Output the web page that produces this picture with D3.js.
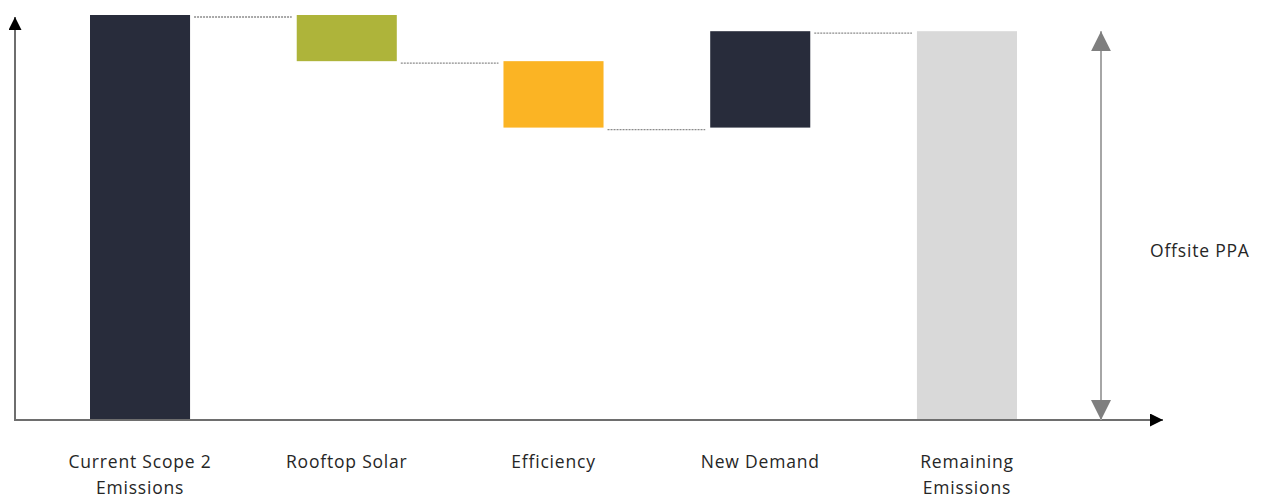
<!DOCTYPE html>
<html>
<head>
<meta charset="utf-8">
<script src="https://cdn.jsdelivr.net/npm/d3@7"></script>
<style>
  html, body { margin: 0; padding: 0; background: #ffffff; }
  svg { display: block; }
  text { font-family: "Open Sans", "Noto Sans", sans-serif; fill: #262626; }
</style>
</head>
<body>
<svg id="chart" width="1263" height="497"></svg>
<script>
// Scope 2 emissions bridge
const categories = ["Current Scope 2 Emissions", "Rooftop Solar", "Efficiency", "New Demand", "Remaining Emissions"];
const labelLines = [["Current Scope 2", "Emissions"], ["Rooftop Solar"], ["Efficiency"], ["New Demand"], ["Remaining", "Emissions"]];
// change contributed by each step (the last one is the resulting total)
const deltas = [100, -11.4, -16.4, 23.8, null];
const kinds = ["total", "step", "step", "step", "total"];
const colors = ["#282c3b", "#aeb43a", "#fbb424", "#282c3b", "#d9d9d9"];
const bracketLabel = "Offsite PPA";

// build start/end for each bar of the waterfall
let running = 0;
const bars = categories.map((c, i) => {
  let start, end;
  if (kinds[i] === "total" && deltas[i] == null) {
    start = 0; end = running;
  } else if (kinds[i] === "total") {
    start = 0; end = deltas[i]; running = end;
  } else {
    start = running; end = running + deltas[i]; running = end;
  }
  return { cat: c, lines: labelLines[i], start, end, color: colors[i] };
});

const svg = d3.select("#chart");
const originX = 15, originY = 420;

const x = d3.scaleBand()
  .domain(categories)
  .range([90, 1017])
  .paddingInner(0.516)
  .paddingOuter(0);

const y = d3.scaleLinear()
  .domain([0, 100])
  .range([originY, 15]);

const bw = x.bandwidth();

// bars
svg.append("g").selectAll("rect")
  .data(bars)
  .join("rect")
  .attr("x", d => x(d.cat))
  .attr("width", bw)
  .attr("y", d => y(Math.max(d.start, d.end)))
  .attr("height", d => Math.abs(y(d.start) - y(d.end)))
  .attr("fill", d => d.color);

// dashed connectors between consecutive bars
const links = bars.slice(0, -1).map((d, i) => ({ level: d.end, from: d.cat, to: bars[i + 1].cat }));
svg.append("g").selectAll("line")
  .data(links)
  .join("line")
  .attr("x1", d => x(d.from) + bw + 4)
  .attr("x2", d => x(d.to) - 5)
  .attr("y1", d => y(d.level) + 2)
  .attr("y2", d => y(d.level) + 2)
  .attr("stroke", "#8c8c8c")
  .attr("stroke-width", 1.3)
  .attr("stroke-dasharray", "2,1");

// axes with arrowheads
const defs = svg.append("defs");
defs.append("marker")
  .attr("id", "axisArrow")
  .attr("viewBox", "0 0 10 10")
  .attr("refX", 10).attr("refY", 5)
  .attr("markerUnits", "userSpaceOnUse")
  .attr("markerWidth", 13).attr("markerHeight", 13)
  .attr("orient", "auto")
  .append("path").attr("d", "M0,0L10,5L0,10Z").attr("fill", "#000");

const xAxis = d3.axisBottom(x).tickSize(0).tickFormat("");
const gx = svg.append("g").attr("transform", `translate(0,${originY})`).call(xAxis);
gx.select(".domain").remove();

svg.append("line")
  .attr("x1", originX).attr("x2", 1163)
  .attr("y1", originY).attr("y2", originY)
  .attr("stroke", "#6e6e6e").attr("stroke-width", 2)
  .attr("marker-end", "url(#axisArrow)");
svg.append("line")
  .attr("x1", originX).attr("x2", originX)
  .attr("y1", originY + 1).attr("y2", 17)
  .attr("stroke", "#6e6e6e").attr("stroke-width", 2)
  .attr("marker-end", "url(#axisArrow)");

// category labels
const lab = svg.append("g").selectAll("text")
  .data(bars)
  .join("text")
  .attr("text-anchor", "middle")
  .attr("font-size", 17.5)
  .attr("letter-spacing", 0.8)
  .attr("x", d => x(d.cat) + bw / 2)
  .attr("y", 468);
lab.selectAll("tspan")
  .data(d => d.lines.map(t => ({ t, cx: x(d.cat) + bw / 2 })))
  .join("tspan")
  .attr("x", d => d.cx)
  .attr("dy", (d, i) => i === 0 ? 0 : 26)
  .text(d => d.t);

// bracket showing the remaining amount to cover
const last = bars[bars.length - 1];
const bx = 1101;
const topY = y(last.end), botY = y(0);
defs.append("marker")
  .attr("id", "bracketArrow")
  .attr("viewBox", "0 0 10 10")
  .attr("refX", 10).attr("refY", 5)
  .attr("markerUnits", "userSpaceOnUse")
  .attr("markerWidth", 20).attr("markerHeight", 20)
  .attr("orient", "auto")
  .append("path").attr("d", "M0,0L10,5L0,10Z").attr("fill", "#7f7f7f");
defs.append("marker")
  .attr("id", "bracketArrowStart")
  .attr("viewBox", "0 0 10 10")
  .attr("refX", 0).attr("refY", 5)
  .attr("markerUnits", "userSpaceOnUse")
  .attr("markerWidth", 20).attr("markerHeight", 20)
  .attr("orient", "auto")
  .append("path").attr("d", "M10,0L0,5L10,10Z").attr("fill", "#7f7f7f");
svg.append("line")
  .attr("x1", bx).attr("x2", bx)
  .attr("y1", topY).attr("y2", botY)
  .attr("stroke", "#a6a6a6").attr("stroke-width", 2)
  .attr("marker-start", "url(#bracketArrowStart)")
  .attr("marker-end", "url(#bracketArrow)");

svg.append("text")
  .attr("x", 1150)
  .attr("y", (topY + botY) / 2 + 31)
  .attr("font-size", 17.5)
  .attr("letter-spacing", 0.8)
  .text(bracketLabel);
</script>
</body>
</html>
